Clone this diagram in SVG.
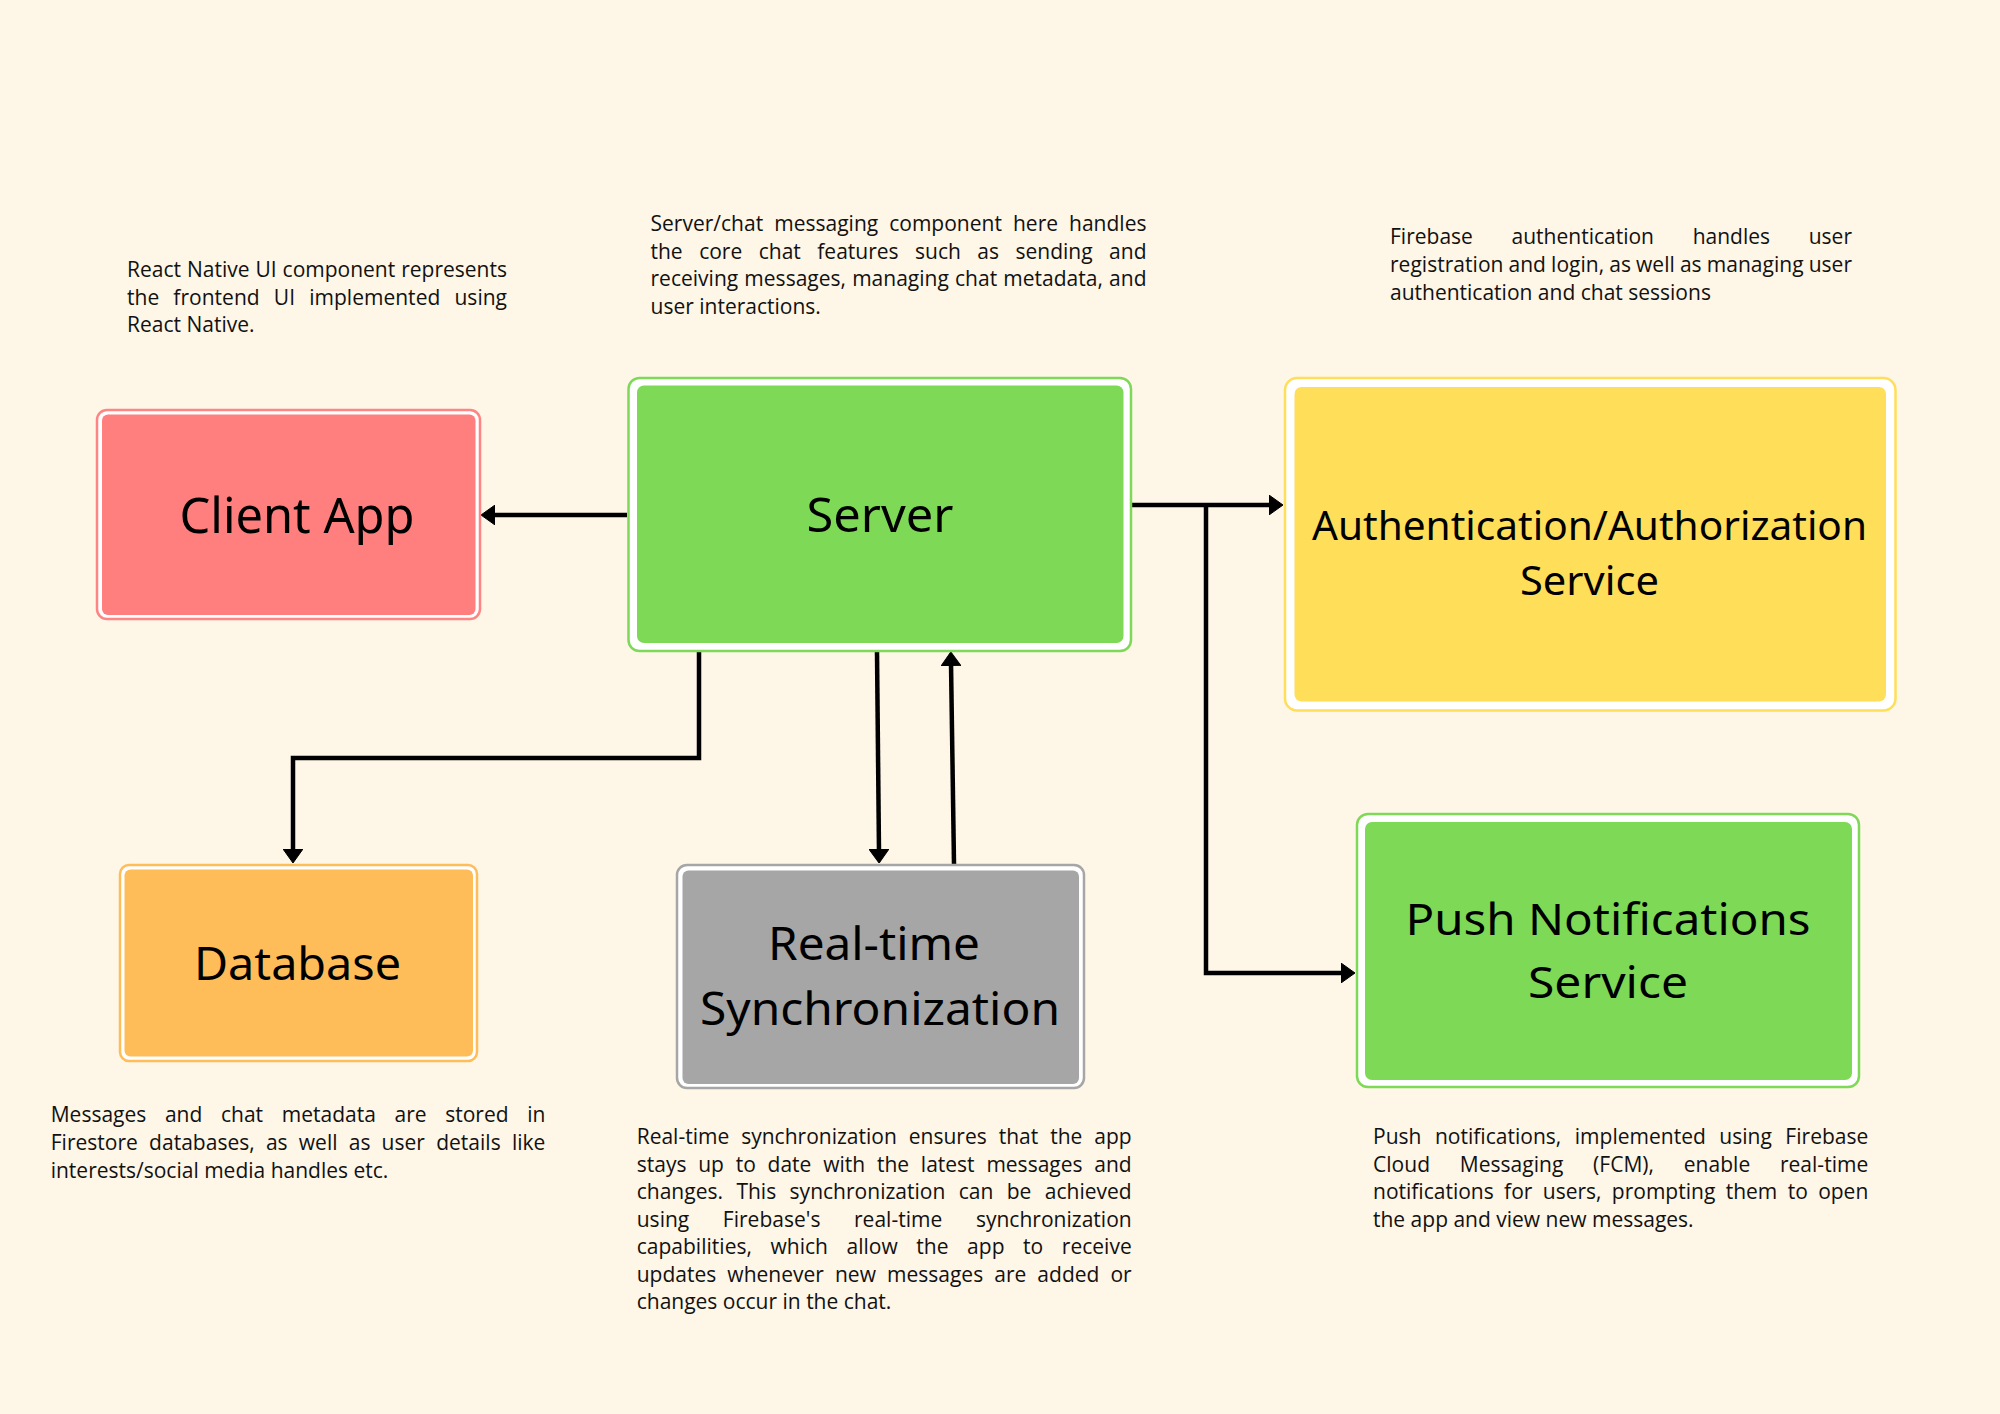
<svg xmlns="http://www.w3.org/2000/svg" width="2000" height="1414" viewBox="0 0 2000 1414">
<style>
.bg{fill:#FEF6E7}
.lbl{font-family:"Noto Sans","Open Sans",sans-serif;fill:#000;text-anchor:middle}
.desc{font-family:"Open Sans","Noto Sans",sans-serif;font-size:21px;fill:#111}
.con{fill:none;stroke:#000;stroke-width:4.5;stroke-linejoin:miter}
.o{fill:#fff;stroke-width:2.5}
</style>
<defs>
<marker id="ah" viewBox="0 0 14 20" refX="3" refY="10" markerWidth="14" markerHeight="20" markerUnits="userSpaceOnUse" orient="auto">
<path d="M0,0 L14,10 L0,20 Z" fill="#000" stroke="#000" stroke-width="1" stroke-linejoin="round"/>
</marker>
</defs>
<rect class="bg" x="0" y="0" width="2000" height="1414"/>

<g id="connectors">
<path class="con" d="M627,515 H492" marker-end="url(#ah)"/>
<path class="con" d="M1132,505 H1272" marker-end="url(#ah)"/>
<path class="con" d="M1206,505 V973 H1344" marker-end="url(#ah)"/>
<path class="con" d="M699,652 V758 H293 V852" marker-end="url(#ah)"/>
<path class="con" d="M877,652 L879,852" marker-end="url(#ah)"/>
<path class="con" d="M954,864 L951,663" marker-end="url(#ah)"/>
</g>

<g id="client-app">
<rect class="o" x="97" y="410" width="383" height="209" rx="10" stroke="#FF8585"/>
<rect x="102" y="414.5" width="373.5" height="200.5" rx="6" fill="#FF7F7F"/>
<text class="lbl" x="297" y="533" font-size="50" textLength="235" lengthAdjust="spacingAndGlyphs">Client App</text>
</g>

<g id="server">
<rect class="o" x="628.5" y="378" width="502.5" height="273" rx="11" stroke="#7ED957"/>
<rect x="637" y="385.5" width="486.5" height="257.5" rx="7" fill="#7ED957"/>
<text class="lbl" x="880" y="532" font-size="48" textLength="147" lengthAdjust="spacingAndGlyphs">Server</text>
</g>

<g id="auth-service">
<rect class="o" x="1285" y="378" width="610.5" height="332.5" rx="12" stroke="#FFDE59"/>
<rect x="1294.5" y="387" width="591.5" height="314.5" rx="7" fill="#FFDE59"/>
<text class="lbl" x="1589.5" y="540" font-size="40" textLength="555" lengthAdjust="spacingAndGlyphs">Authentication/Authorization</text>
<text class="lbl" x="1589.5" y="595" font-size="40" textLength="139" lengthAdjust="spacingAndGlyphs">Service</text>
</g>

<g id="database">
<rect class="o" x="120" y="865" width="357" height="196" rx="9" stroke="#FFBD59"/>
<rect x="124.5" y="869.5" width="348.5" height="187" rx="6" fill="#FFBD59"/>
<text class="lbl" x="297.5" y="980" font-size="46" textLength="207" lengthAdjust="spacingAndGlyphs">Database</text>
</g>

<g id="realtime-sync">
<rect class="o" x="677" y="865" width="407" height="223" rx="10" stroke="#A6A6A6"/>
<rect x="682.5" y="870.5" width="396.5" height="213.5" rx="6" fill="#A6A6A6"/>
<text class="lbl" x="874" y="960" font-size="45" textLength="212" lengthAdjust="spacingAndGlyphs">Real-time</text>
<text class="lbl" x="880" y="1025" font-size="45" textLength="360" lengthAdjust="spacingAndGlyphs">Synchronization</text>
</g>

<g id="push-service">
<rect class="o" x="1357" y="814" width="502" height="273" rx="11" stroke="#7ED957"/>
<rect x="1365" y="822" width="487" height="258" rx="7" fill="#7ED957"/>
<text class="lbl" x="1608" y="935" font-size="44" textLength="405" lengthAdjust="spacingAndGlyphs">Push Notifications</text>
<text class="lbl" x="1608" y="998" font-size="44" textLength="160" lengthAdjust="spacingAndGlyphs">Service</text>
</g>

<g id="desc-client">
<text class="desc" x="127" y="277" word-spacing="0.5" textLength="380" lengthAdjust="spacing">React Native UI component represents</text>
<text class="desc" x="127" y="304.5" word-spacing="8.7" textLength="380" lengthAdjust="spacing">the frontend UI implemented using</text>
<text class="desc" x="127" y="332">React Native.</text>
</g>

<g id="desc-server">
<text class="desc" x="650.5" y="231" word-spacing="5.5" textLength="496" lengthAdjust="spacing">Server/chat messaging component here handles</text>
<text class="desc" x="650.5" y="258.5" word-spacing="11.1" textLength="496" lengthAdjust="spacing">the core chat features such as sending and</text>
<text class="desc" x="650.5" y="286" word-spacing="0.7" textLength="496" lengthAdjust="spacing">receiving messages, managing chat metadata, and</text>
<text class="desc" x="650.5" y="313.5">user interactions.</text>
</g>

<g id="desc-auth">
<text class="desc" x="1390" y="244" word-spacing="33.2" textLength="462" lengthAdjust="spacing">Firebase authentication handles user</text>
<text class="desc" x="1390" y="272" word-spacing="-0.4" textLength="462" lengthAdjust="spacing">registration and login, as well as managing user</text>
<text class="desc" x="1390" y="300">authentication and chat sessions</text>
</g>

<g id="desc-database">
<text class="desc" x="50.7" y="1122" word-spacing="13.2" textLength="494.7" lengthAdjust="spacing">Messages and chat metadata are stored in</text>
<text class="desc" x="50.7" y="1150" word-spacing="5.7" textLength="494.7" lengthAdjust="spacing">Firestore databases, as well as user details like</text>
<text class="desc" x="50.7" y="1178">interests/social media handles etc.</text>
</g>

<g id="desc-realtime">
<text class="desc" x="636.7" y="1144" word-spacing="6.5" textLength="495" lengthAdjust="spacing">Real-time synchronization ensures that the app</text>
<text class="desc" x="636.7" y="1171.5" word-spacing="6.3" textLength="495" lengthAdjust="spacing">stays up to date with the latest messages and</text>
<text class="desc" x="636.7" y="1199" word-spacing="7.9" textLength="495" lengthAdjust="spacing">changes. This synchronization can be achieved</text>
<text class="desc" x="636.7" y="1226.5" word-spacing="28.1" textLength="495" lengthAdjust="spacing">using Firebase's real-time synchronization</text>
<text class="desc" x="636.7" y="1254" word-spacing="13.1" textLength="495" lengthAdjust="spacing">capabilities, which allow the app to receive</text>
<text class="desc" x="636.7" y="1281.5" word-spacing="5.6" textLength="495" lengthAdjust="spacing">updates whenever new messages are added or</text>
<text class="desc" x="636.7" y="1309">changes occur in the chat.</text>
</g>

<g id="desc-push">
<text class="desc" x="1373" y="1144" word-spacing="8" textLength="495.3" lengthAdjust="spacing">Push notifications, implemented using Firebase</text>
<text class="desc" x="1373" y="1171.5" word-spacing="24.2" textLength="495.3" lengthAdjust="spacing">Cloud Messaging (FCM), enable real-time</text>
<text class="desc" x="1373" y="1199" word-spacing="4.9" textLength="495.3" lengthAdjust="spacing">notifications for users, prompting them to open</text>
<text class="desc" x="1373" y="1226.5">the app and view new messages.</text>
</g>
</svg>
